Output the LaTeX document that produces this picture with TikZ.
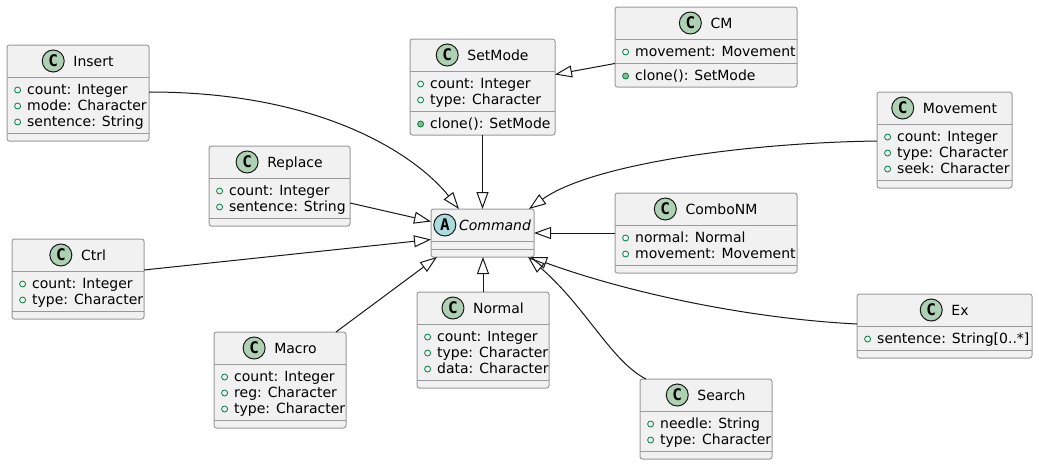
\documentclass[tikz,border=0pt]{standalone}
\usepackage{fontspec}
\setmainfont{DejaVu Sans}
\newfontfamily\iconfont{DejaVu Sans Mono}
\usetikzlibrary{arrows.meta}

\definecolor{boxfill}{HTML}{F1F1F1}
\definecolor{boxline}{HTML}{9A9A9A}
\definecolor{linecol}{HTML}{181818}
\definecolor{iconC}{HTML}{ADD1B2}
\definecolor{iconA}{HTML}{A9DCDF}
\definecolor{visgreen}{HTML}{038048}
\definecolor{methfill}{HTML}{84BE84}

\tikzset{
  classbox/.style={draw=boxline, fill=boxfill, line width=1pt, rounded corners=2.5pt, inner sep=0pt, outer sep=0pt, anchor=north west},
  sepline/.style={draw=boxline, line width=1pt},
  titletxt/.style={inner sep=0pt, anchor=base, font=\fontsize{14}{16}\selectfont},
  iconnode/.style={circle, draw=linecol, line width=1pt, minimum size=22pt, inner sep=0pt, font=\fontsize{16}{16}\selectfont\iconfont\bfseries},
  fieldmark/.style={circle, draw=visgreen, line width=0.8pt, minimum size=6pt, inner sep=0pt},
  methmark/.style={fieldmark, fill=methfill},
  membertxt/.style={inner sep=0pt, anchor=base west, font=\fontsize{14}{16}\selectfont},
  extends/.style={draw=linecol, line width=1pt, -{Triangle[open, length=17pt, width=12pt]}},
}

% [#1 gap]{#2 name}{#3 x}{#4 y}{#5 width}{#6 fields}{#7 methods}{#8 letter}{#9 title}
\newcommand\umlclass[9][9]{%
  \pgfmathsetmacro\boxh{48+16*#6+16*#7}%
  \node[classbox, minimum width=#5pt, minimum height=\boxh pt] (#2) at (#3,#4) {};
  \draw[sepline] (#3,{#4+32}) -- ++(#5,0);
  \draw[sepline] (#3,{#4+40+16*#6}) -- ++(#5,0);
  \pgfmathsetmacro\titlex{#3+#5/2+(22+#1)/2}%
  \node[titletxt] (#2-title) at (\titlex,{#4+21}) {#9};
  \pgfmathsetmacro\iconshift{-(11+#1)}%
  \node[iconnode, fill=icon#8] (#2-icon) at ([xshift=\iconshift pt, yshift=5pt]#2-title.base west) {#8};
}
\newcommand\umlfields[2]{%
  \foreach \f [count=\i from 0] in {#2} {%
    \pgfmathsetmacro\my{-(45+16*\i)}%
    \pgfmathsetmacro\ty{-(49.5+16*\i)}%
    \node[fieldmark] (#1-fm\i) at ([xshift=10.6pt, yshift=\my pt]#1.north west) {};
    \node[membertxt] (#1-f\i) at ([xshift=20pt, yshift=\ty pt]#1.north west) {\f};
  }}
\newcommand\umlmethods[3]{%
  \foreach \f [count=\i from 0] in {#3} {%
    \pgfmathsetmacro\my{-(53+16*#2+16*\i)}%
    \pgfmathsetmacro\ty{-(57.5+16*#2+16*\i)}%
    \node[methmark] (#1-mm\i) at ([xshift=10.6pt, yshift=\my pt]#1.north west) {};
    \node[membertxt] (#1-m\i) at ([xshift=20pt, yshift=\ty pt]#1.north west) {\f};
  }}

\begin{document}
\begin{tikzpicture}[x=1pt,y=-1pt]
\fill[white] (0,0) rectangle (1039,466);
\useasboundingbox (0,0) rectangle (1039,466);

\umlclass{Insert}{7}{45}{142}{3}{0}{C}{Insert}
\umlfields{Insert}{count: Integer, mode: Character, sentence: String}
\umlclass{Replace}{209}{146}{141}{2}{0}{C}{Replace}
\umlfields{Replace}{count: Integer, sentence: String}
\umlclass{SetMode}{410}{39}{145}{2}{1}{C}{SetMode}
\umlfields{SetMode}{count: Integer, type: Character}
\umlmethods{SetMode}{2}{clone(): SetMode}
\umlclass{CM}{615}{7}{182}{1}{1}{C}{CM}
\umlfields{CM}{movement: Movement}
\umlmethods{CM}{1}{clone(): SetMode}
\umlclass{Movement}{877}{92}{135}{3}{0}{C}{Movement}
\umlfields{Movement}{count: Integer, type: Character, seek: Character}
\umlclass[3]{Command}{431}{209}{103}{0}{0}{A}{\itshape Command}
\umlclass{ComboNM}{615}{193}{182}{2}{0}{C}{ComboNM}
\umlfields{ComboNM}{normal: Normal, movement: Movement}
\umlclass{Ctrl}{12}{239}{132}{2}{0}{C}{Ctrl}
\umlfields{Ctrl}{count: Integer, type: Character}
\umlclass{Macro}{214}{332}{132}{3}{0}{C}{Macro}
\umlfields{Macro}{count: Integer, reg: Character, type: Character}
\umlclass{Normal}{417}{292}{132}{3}{0}{C}{Normal}
\umlfields{Normal}{count: Integer, type: Character, data: Character}
\umlclass{Ex}{857}{294}{175}{1}{0}{C}{Ex}
\umlfields{Ex}{sentence: String[0..*]}
\umlclass{Search}{640}{379}{132}{2}{0}{C}{Search}
\umlfields{Search}{needle: String, type: Character}

\draw[extends] ([yshift=-47pt]Insert.north east) .. controls +(181,0) and +(-39,-49) .. ([xshift=28pt]Command.north west);
\draw[extends] ([yshift=-57pt]Replace.north east) -- ([yshift=-12.5pt]Command.north west);
\draw[extends] ([yshift=-31pt]Ctrl.north east) -- ([yshift=-30.5pt]Command.north west);
\draw[extends] ([xshift=-10pt]Macro.north east) -- ([xshift=6pt]Command.south west);
\draw[extends] (Normal.north) -- (Normal.north |- Command.south);
\draw[extends] (SetMode.south) -- (SetMode.south |- Command.north);
\draw[extends] ([yshift=-56.5pt]CM.north west) -- ([yshift=-35.5pt]SetMode.north east);
\draw[extends] ([yshift=-49pt]Movement.north west) .. controls +(-137,2) and +(61,-44) .. ([xshift=-5pt]Command.north east);
\draw[extends] (ComboNM.west |- Command.east) -- (Command.east);
\draw[extends] ([yshift=-30pt]Ex.north west) .. controls +(-117,-6) and +(90,33) .. ([xshift=-4pt]Command.south east);
\draw[extends] ([xshift=6pt]Search.north west) .. controls +(-34,-17) and +(57,49) .. ([xshift=-6pt]Command.south east);
\end{tikzpicture}
\end{document}
